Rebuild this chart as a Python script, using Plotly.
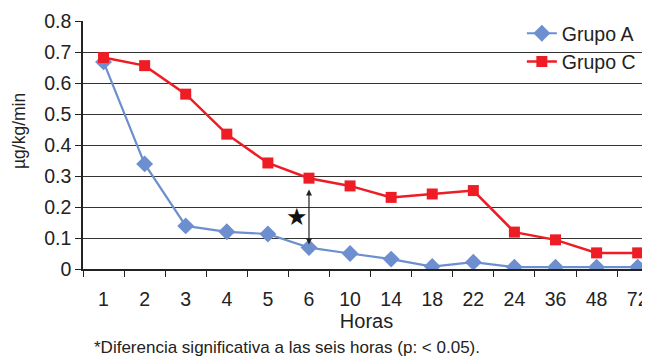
import plotly.graph_objects as go

horas = ["1", "2", "3", "4", "5", "6", "10", "14", "18", "22", "24", "36", "48", "72"]
grupo_a = [0.668, 0.339, 0.139, 0.120, 0.113, 0.069, 0.050, 0.032, 0.008, 0.022, 0.006, 0.006, 0.006, 0.006]
grupo_c = [0.682, 0.656, 0.564, 0.435, 0.342, 0.293, 0.268, 0.231, 0.242, 0.253, 0.119, 0.094, 0.052, 0.052]
y_ticks = [0, 0.1, 0.2, 0.3, 0.4, 0.5, 0.6, 0.7, 0.8]
y_ticktext = ["0", "0.1", "0.2", "0.3", "0.4", "0.5", "0.6", "0.7", "0.8"]
sig_idx = 5  # six hours

FONT = "Liberation Sans, Arial, sans-serif"

fig = go.Figure()
fig.add_trace(go.Scatter(
    x=horas, y=grupo_a, name="Grupo A", mode="lines+markers",
    line=dict(color="#6d8fcf", width=2.2),
    marker=dict(symbol="diamond", size=13, color="#6d8fcf"),
))
fig.add_trace(go.Scatter(
    x=horas, y=grupo_c, name="Grupo C", mode="lines+markers",
    line=dict(color="#ee1c25", width=2.5),
    marker=dict(symbol="square", size=11, color="#ee1c25"),
))

# significance arrow between the two groups at 6 h
fig.add_annotation(
    x=sig_idx, y=grupo_a[sig_idx] + 0.01,
    ax=sig_idx, ay=grupo_c[sig_idx] - 0.032,
    xref="x", yref="y", axref="x", ayref="y",
    text="", showarrow=True, arrowhead=2, startarrowhead=2,
    arrowside="end+start", arrowsize=1, arrowwidth=1.2, arrowcolor="#222222",
)
fig.add_annotation(
    x=sig_idx - 0.3, y=(grupo_a[sig_idx] + grupo_c[sig_idx]) / 2 - 0.013,
    xref="x", yref="y", text="★", showarrow=False,
    font=dict(size=24, color="#111111", family="DejaVu Sans"),
)
fig.add_annotation(
    x=(92 - 83) / 567, y=-(347 - 269) / 248, xref="paper", yref="paper",
    text="*Diferencia significativa a las seis horas (p: < 0.05).",
    showarrow=False, xanchor="left", yanchor="middle",
    font=dict(size=17, color="#222222", family=FONT),
)
# y-axis title (placed as in the reference, above the plot's middle)
fig.add_annotation(
    x=(19 - 83) / 567, y=(269 - 131) / 248, xref="paper", yref="paper",
    text="µg/kg/min", textangle=-90, showarrow=False,
    xanchor="center", yanchor="middle",
    font=dict(size=17.5, color="#222222", family=FONT),
)

# the page body adds an 8px offset, so the figure is 8px smaller and margins shifted
fig.update_layout(
    width=642, height=348,
    margin=dict(l=75, r=0, t=13, b=87, autoexpand=False),
    paper_bgcolor="white", plot_bgcolor="white",
    font=dict(family=FONT, size=19.5, color="#222222"),
    showlegend=True,
    legend=dict(
        x=0.774, y=1.028, xanchor="left", yanchor="top",
        bgcolor="rgba(0,0,0,0)", font=dict(size=19.5, color="#222222"),
        tracegroupgap=0, itemwidth=30,
    ),
    xaxis=dict(
        type="category", range=[-0.5, 13.3], automargin=False,
        tickson="boundaries", ticks="outside", ticklen=6, tickcolor="#222222",
        showgrid=False, showline=True, linecolor="#222222", linewidth=1.5,
        ticklabelstandoff=12,
        title=dict(text="Horas", standoff=3, font=dict(size=20)),
        zeroline=False,
    ),
    yaxis=dict(
        range=[0, 0.8], tickvals=y_ticks, ticktext=y_ticktext, automargin=False,
        ticks="outside", ticklen=6, tickcolor="#222222",
        showgrid=True, gridcolor="#333333", gridwidth=1.3,
        showline=True, linecolor="#222222", linewidth=1.5,
        zeroline=False,
    ),
)

fig.write_html("out.html")
